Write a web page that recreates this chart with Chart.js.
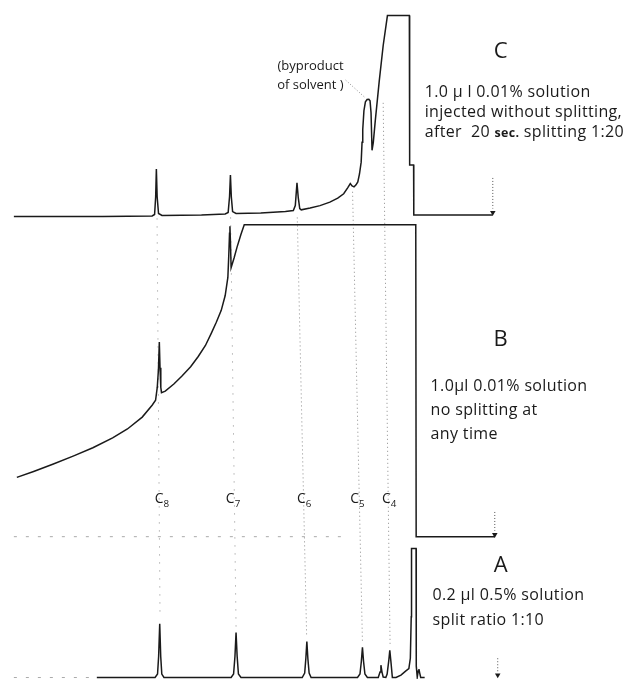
<!DOCTYPE html>
<html><head><meta charset="utf-8">
<script src="https://cdn.jsdelivr.net/npm/chart.js@4/dist/chart.umd.min.js"></script>
<style>
html,body{margin:0;padding:0;background:#fff;overflow:hidden}
#wrap{position:relative;width:638px;height:683px}
canvas{position:absolute;left:0;top:0}
.t{position:absolute;font-family:"Open Sans","DejaVu Sans",sans-serif;color:#1a1a1a;white-space:nowrap;line-height:1}
.cap{letter-spacing:0.35px}
.t sub{font-size:70%;vertical-align:-0.35em}
.t b{font-size:78%;font-weight:700}
</style></head><body>
<div id="wrap"><canvas id="c" width="638" height="683"></canvas></div>
<script>
// Chart units: x = chart-paper position (retention runs right -> left), y = pen position from top of sheet
// Trace C: 1.0 µl 0.01 %, injected without splitting, after 20 s splitting 1:20
const traceC = [[10,215],[100,215],[150,214.5],[152.5,213],[153.6,195],[154.3,167],[155.1,195],[156.5,212],[160,214],[200,213.5],[224,212.5],[227,211],[228.4,195],[229.3,173],[230.2,195],[231.5,210],[235,212],[260,211.5],[285,210],[293,209],[295,204],[296.7,181],[298,196],[299.5,207],[301,208.3],[310,206.5],[320,204],[330,200.5],[338,196.5],[344,192],[348,186],[350.7,181.7],[352.5,184],[354.5,185],[356.5,183],[358.3,180],[360,172],[361.7,160],[362.6,140],[363.3,127],[364.5,108],[366,99],[367.7,96.7],[369.5,96.5],[370.7,98],[371.7,110],[372.7,148],[374,140],[376,118],[380,78],[384,42],[388.3,11.7],[410.5,11.7],[410.8,163],[414.8,163],[415,213.5],[495,213.5]];
// Trace B: 1.0 µl 0.01 %, no splitting at any time
const traceB = [[13,479],[30,473],[50,465.5],[70,457.5],[90,449],[110,439],[125,430],[140,418],[150,406],[153.5,401],[155.2,388],[156.4,370],[157.3,342],[158,368],[158.8,388],[159.5,393.3],[163.3,391.7],[172,384.5],[180,376.7],[189,367],[196.7,356.7],[204,345.5],[210,333],[215,322],[220,310],[224,295],[226.7,276.7],[227.6,255],[228.4,232],[228.8,225],[229.3,240],[230,266.7],[233,257],[236,246],[240,233],[243.3,223.3],[417,223.3],[417.4,539],[497,539]];
// Trace A: 0.2 µl 0.5 %, split ratio 1:10
const traceA = [[94,681.5],[153,681.5],[155.5,678],[156.6,660],[157.7,627],[158.7,660],[159.8,678],[162,681.5],[230,681.5],[232.5,678],[233.9,660],[235,636],[236.1,660],[237.4,678],[240,681.5],[302,681.5],[304.5,677],[305.7,662],[306.7,645],[307.7,662],[309,677],[311,681.5],[358,681.5],[360.5,678],[361.9,665],[363,651],[364.1,665],[365.5,678],[368,681.5],[379,681.5],[380.8,676],[381.7,669],[382.8,676],[384,681],[386.7,681.5],[388,678],[389.6,665],[390.7,654],[391.8,665],[393.3,681.5],[397,681.5],[402,679],[406.7,675],[410,672.5],[411.5,662],[412.4,620],[412.7,551],[417.3,551],[417.5,670],[418.5,681],[419.5,675],[420.2,673],[421,677],[422,681.5],[426,681.5]];
// peak-correlation guide lines (C8..C4)
const guideC8 = [[155,217],[158,620]];
const guideC7 = [[229.5,216],[235,630]];
const guideC6 = [[297,216],[306.5,640]];
const guideC5 = [[353,190],[363,646]];
const guideC4 = [[384,100],[391,650]];
const leader = [[346,77],[366,95]];
const arrowStems = [[495,176],[495,207],null,[497,514],[497,533],null,[500,662],[500,676]];
const arrowHeads = [[495,211],[497,537],[500,679]];
const faintBaselines = [[10,539],[350,539],null,[10,681.5],[94,681.5]];
// labels
const peakNames = ['C8','C7','C6','C5','C4'];
const peakLabelX = [160,232,304,358,390];
const peakLabelY = 502;
const traceNames = ['C','B','A'];
const traceNameY = [46,337,566];
const captionC = ['1.0 \u03bc l 0.01% solution','injected without splitting,','after&nbsp; 20 <b>sec.</b> splitting 1:20'];
const captionB = ['1.0\u03bcl 0.01% solution','no splitting at','any time'];
const captionA = ['0.2 \u03bcl 0.5% solution','split ratio 1:10'];
const byproductNote = ['(byproduct','of solvent )'];

const pts = a => a.map(p => p ? {x:p[0], y:p[1]} : {x:null,y:null});
const ink = '#1a1a1a';
const traceDs = (d) => ({data:pts(d), showLine:true, borderColor:ink, borderWidth:1.5, pointRadius:0, tension:0, spanGaps:false});
const dotDs = (d, dash, col) => ({data:pts(d), showLine:true, borderColor:col||'#8a8a8a', borderWidth:1, borderDash:dash, pointRadius:0, tension:0, spanGaps:false});

const chart = new Chart(document.getElementById('c'), {
  type:'scatter',
  data:{datasets:[
    traceDs(traceC), traceDs(traceB), traceDs(traceA),
    dotDs(guideC8,[1,7]), dotDs(guideC7,[1,7]), dotDs(guideC6,[1,3]), dotDs(guideC5,[1,3]), dotDs(guideC4,[1,3]),
    dotDs(leader,[1,2]), dotDs(arrowStems,[1,2],'#555'), dotDs(faintBaselines,[3,9],'#aaa'),
    {data:pts(arrowHeads), showLine:false, pointStyle:'triangle', rotation:180, pointRadius:3.2, backgroundColor:ink, borderColor:ink, borderWidth:0}
  ]},
  options:{
    responsive:false, animation:false, events:[],
    layout:{padding:0},
    plugins:{legend:{display:false}, tooltip:{enabled:false}},
    scales:{
      x:{type:'linear', min:0, max:638, display:false},
      y:{type:'linear', min:0, max:683, reverse:true, display:false}
    }
  }
});

const wrap = document.getElementById('wrap');
const X = v => chart.scales.x.getPixelForValue(v);
const Y = v => chart.scales.y.getPixelForValue(v);
function note(html, x, y, size, align, cls){
  const d = document.createElement('div');
  d.className = 't' + (cls ? ' ' + cls : '');
  d.innerHTML = html;
  d.style.fontSize = size + 'px';
  d.style.left = X(x) + 'px';
  d.style.top = Y(y) + 'px';
  const tx = align === 'center' ? '-50%' : align === 'right' ? '-100%' : '0';
  d.style.transform = 'translate(' + tx + ',-50%)';
  wrap.appendChild(d);
}
traceNames.forEach((n,i) => note(n, 503, traceNameY[i], 22, 'center'));
peakNames.forEach((n,i) => note(n[0] + '<sub>' + n.slice(1) + '</sub>', peakLabelX[i], peakLabelY, 14, 'center'));
captionC.forEach((s,i) => note(s, 426, 88 + i*20, 16, 'left', 'cap'));
captionB.forEach((s,i) => note(s, 432, 386 + i*24, 16, 'left', 'cap'));
captionA.forEach((s,i) => note(s, 434, 597 + i*25, 16, 'left', 'cap'));
byproductNote.forEach((s,i) => note(s, 344, 62 + i*19, 13, 'right'));
</script>
</body></html>
